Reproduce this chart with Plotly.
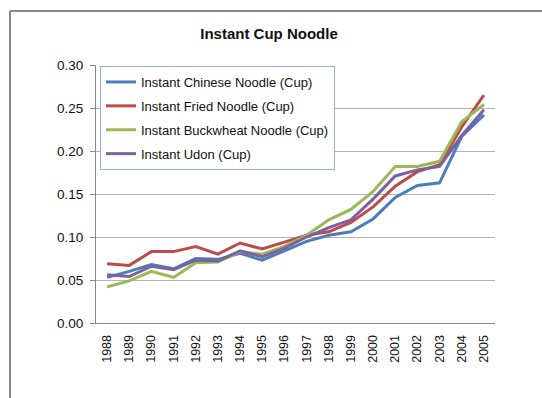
import plotly.graph_objects as go

years = [str(y) for y in range(1988, 2006)]
chinese = [0.053, 0.060, 0.068, 0.063, 0.075, 0.074, 0.081, 0.073, 0.084, 0.095,
           0.102, 0.106, 0.121, 0.146, 0.160, 0.163, 0.217, 0.242]
fried = [0.069, 0.067, 0.083, 0.083, 0.089, 0.080, 0.093, 0.086, 0.094, 0.102,
         0.106, 0.117, 0.135, 0.159, 0.176, 0.184, 0.228, 0.265]
buckwheat = [0.042, 0.049, 0.060, 0.053, 0.070, 0.071, 0.083, 0.080, 0.089, 0.102,
             0.120, 0.132, 0.153, 0.182, 0.182, 0.188, 0.234, 0.254]
udon = [0.056, 0.054, 0.066, 0.062, 0.073, 0.072, 0.084, 0.077, 0.087, 0.100,
        0.111, 0.120, 0.144, 0.171, 0.178, 0.182, 0.218, 0.248]

series = [
    ("Instant Chinese Noodle (Cup)", chinese, "#4a7ebb"),
    ("Instant Fried Noodle (Cup)", fried, "#be4b48"),
    ("Instant Buckwheat Noodle (Cup)", buckwheat, "#98b954"),
    ("Instant Udon (Cup)", udon, "#7d60a0"),
]

W, H = 542, 398
L, R, T, B = 96, 47, 65, 75
pw, ph = W - L - R, H - T - B


def px(x):
    return (x - L) / pw


def py(y):
    return (H - B - y) / ph


fig = go.Figure()
for i, (name, vals, col) in enumerate(series):
    fig.add_trace(go.Scatter(x=years, y=vals, mode="lines", name=name,
                             legendgroup=f"g{i}",
                             line=dict(color=col, width=3)))

font = "Liberation Sans"
fig.update_layout(
    width=W, height=H,
    margin=dict(l=L, r=R, t=T, b=B),
    paper_bgcolor="white", plot_bgcolor="white",
    font=dict(family=font, color="#222"),
    title=dict(text="<b>Instant Cup Noodle</b>", x=269 / W,
               xanchor="center", y=1 - 34 / H, yanchor="middle",
               font=dict(size=15, family=font, color="#111")),
    showlegend=True,
    legend=dict(x=px(100), y=py(66), xanchor="left", yanchor="top",
                bgcolor="white", bordercolor="#95b3d7", borderwidth=1,
                font=dict(size=13, family=font, color="#111"),
                itemwidth=30, tracegroupgap=4, traceorder="grouped"),
    xaxis=dict(type="category", range=[-0.5, 17.5], tickangle=-90,
               showline=True, linecolor="#888", linewidth=1,
               showgrid=False, ticks="", ticklabelstandoff=6,
               tickfont=dict(size=12.5, color="#111")),
    yaxis=dict(range=[0, 0.30], dtick=0.05, tickformat=".2f",
               showline=True, linecolor="#888", linewidth=1,
               showgrid=True, gridcolor="#b3b3b3", gridwidth=1,
               zeroline=False, ticks="outside", ticklen=5, tickcolor="#888",
               ticklabelstandoff=4,
               tickfont=dict(size=13.5, color="#111")),
    shapes=[
        dict(type="line", xref="paper", yref="paper",
             x0=px(10), x1=px(10), y0=py(11), y1=py(398),
             line=dict(color="#8a8a8a", width=2)),
        dict(type="line", xref="paper", yref="paper",
             x0=px(10), x1=px(542), y0=py(11), y1=py(11),
             line=dict(color="#8a8a8a", width=2)),
    ],
)

fig.write_html("out.html")
